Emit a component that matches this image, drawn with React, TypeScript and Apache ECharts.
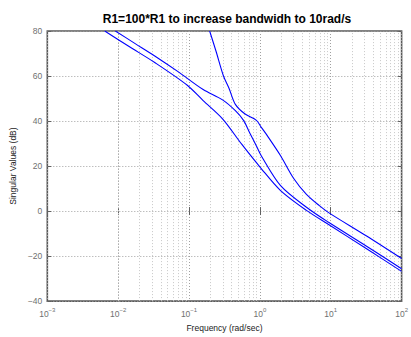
import React, { useEffect, useRef } from "react";
import * as echarts from "echarts";

// log10(frequency in rad/s) and singular values in dB
const sv1LogW = [-2.19, -1.84, -1.484, -1.029, -0.801, -0.527, -0.254, 0.019, 0.292, 0.657, 0.975, 1.5, 2.0];
const sv1Db = [80.0, 73.0, 66.0, 56.0, 49.1, 41.0, 29.6, 18.9, 9.1, 0.3, -6.1, -16.6, -26.8];

const sv2LogW = [-2.04, -1.76, -1.484, -1.14, -0.801, -0.527, -0.346, -0.231, -0.141, -0.049, 0.019, 0.292, 0.657, 0.975, 1.5, 2.0];
const sv2Db = [80.0, 74.4, 68.9, 61.6, 54.0, 49.4, 44.6, 40.3, 34.6, 28.9, 24.6, 11.3, 1.7, -5.1, -15.5, -25.6];

const sv3LogW = [-0.709, -0.619, -0.514, -0.436, -0.346, -0.209, -0.049, 0.02, 0.111, 0.292, 0.475, 0.657, 0.839, 0.975, 1.5, 2.0];
const sv3Db = [80.0, 71.0, 60.0, 54.6, 47.4, 43.1, 40.3, 37.2, 33.2, 24.6, 14.6, 7.4, 2.4, -0.8, -11.0, -21.1];

const decades = [0.001, 0.01, 0.1, 1, 10, 100];
const minorMultipliers = [2, 3, 4, 5, 6, 7, 8, 9];
const yTicks = [-40, -20, 0, 20, 40, 60, 80];

const titleText = "R1=100*R1 to increase bandwidh to 10rad/s";
const xName = "Frequency (rad/sec)";
const yName = "Singular Values (dB)";

const toPairs = (lw: number[], db: number[]) => lw.map((l, i) => [Math.pow(10, l), db[i]]);

export default function App() {
  const ref = useRef<HTMLDivElement>(null);
  useEffect(() => {
    if (!ref.current) return;
    const chart = echarts.init(ref.current, null, { renderer: "svg" });
    const minorLines: { xAxis: number }[] = [];
    decades.slice(0, -1).forEach((d) => minorMultipliers.forEach((m) => minorLines.push({ xAxis: d * m })));
    const font = "Liberation Sans";
    const lineSeries = (name: string, data: number[][]) => ({
      name,
      type: "line",
      data,
      showSymbol: false,
      smooth: 0.3,
      clip: true,
      lineStyle: { color: "#0000ff", width: 1.1 },
      z: 5,
    });
    chart.setOption({
      animation: false,
      backgroundColor: "#ffffff",
      title: {
        text: titleText,
        left: 222,
        textAlign: "center",
        top: 8,
        textStyle: { fontFamily: font, fontSize: 12, fontWeight: "bold", color: "#000" },
      },
      grid: {
        left: 39,
        top: 31,
        right: 6,
        bottom: 26,
        show: true,
        borderColor: "#5a5a5a",
        borderWidth: 1.6,
        backgroundColor: "transparent",
      },
      xAxis: [
        {
          type: "log",
          logBase: 10,
          min: 0.001,
          max: 100,
          name: xName,
          nameLocation: "middle",
          nameGap: 21,
          nameTextStyle: { fontFamily: font, fontSize: 8.5, color: "#222" },
          axisLine: { show: false },
          axisTick: { show: true, inside: true, length: 4, lineStyle: { color: "#606060" } },
          splitLine: { show: true, lineStyle: { color: "#a0a0a0", type: [1, 2], width: 1 } },
          axisLabel: {
            margin: 6,
            formatter: (v: number) => `{b|10}{s|${Math.round(Math.log10(v)).toString().replace("-", "\u2212")}}`,
            rich: {
              b: { fontFamily: font, fontSize: 8.5, color: "#707070" },
              s: { fontFamily: font, fontSize: 6, color: "#707070", padding: [0, 0, 7, 0] },
            },
          },
        },
        {
          type: "log",
          logBase: 10,
          min: 0.001,
          max: 100,
          position: "top",
          axisLine: { show: false },
          axisTick: { show: true, inside: true, length: 4, lineStyle: { color: "#606060" } },
          axisLabel: { show: false },
          splitLine: { show: false },
        },
      ],
      yAxis: [
        {
          type: "value",
          min: -40,
          max: 80,
          interval: 20,
          axisLine: { show: false },
          axisTick: { show: true, inside: true, length: 4, lineStyle: { color: "#606060" } },
          splitLine: { show: true, lineStyle: { color: "#a0a0a0", type: [1, 2], width: 1 } },
          axisLabel: {
            margin: 5,
            fontFamily: font,
            fontSize: 8.5,
            color: "#707070",
            formatter: (v: number) => (yTicks.includes(v) ? String(v).replace("-", "\u2212") : ""),
          },
          name: yName,
          nameLocation: "middle",
          nameGap: 26,
          nameRotate: 90,
          nameTextStyle: { fontFamily: font, fontSize: 8.5, color: "#222" },
        },
        {
          type: "value",
          min: -40,
          max: 80,
          interval: 20,
          position: "right",
          axisLine: { show: false },
          axisTick: { show: true, inside: true, length: 4, lineStyle: { color: "#606060" } },
          axisLabel: { show: false },
          splitLine: { show: false },
        },
      ],
      series: [
        {
          type: "line",
          data: [],
          silent: true,
          markLine: {
            silent: true,
            symbol: "none",
            label: { show: false },
            lineStyle: { color: "#c8c8c8", type: [1, 2], width: 1 },
            data: minorLines,
          },
          z: 1,
        },
        lineSeries("sv1", toPairs(sv1LogW, sv1Db)),
        lineSeries("sv2", toPairs(sv2LogW, sv2Db)),
        lineSeries("sv3", toPairs(sv3LogW, sv3Db)),
      ],
    });
    return () => chart.dispose();
  }, []);
  return <div ref={ref} style={{ position: "fixed", left: 0, top: 0, width: 411, height: 337 }} />;
}
